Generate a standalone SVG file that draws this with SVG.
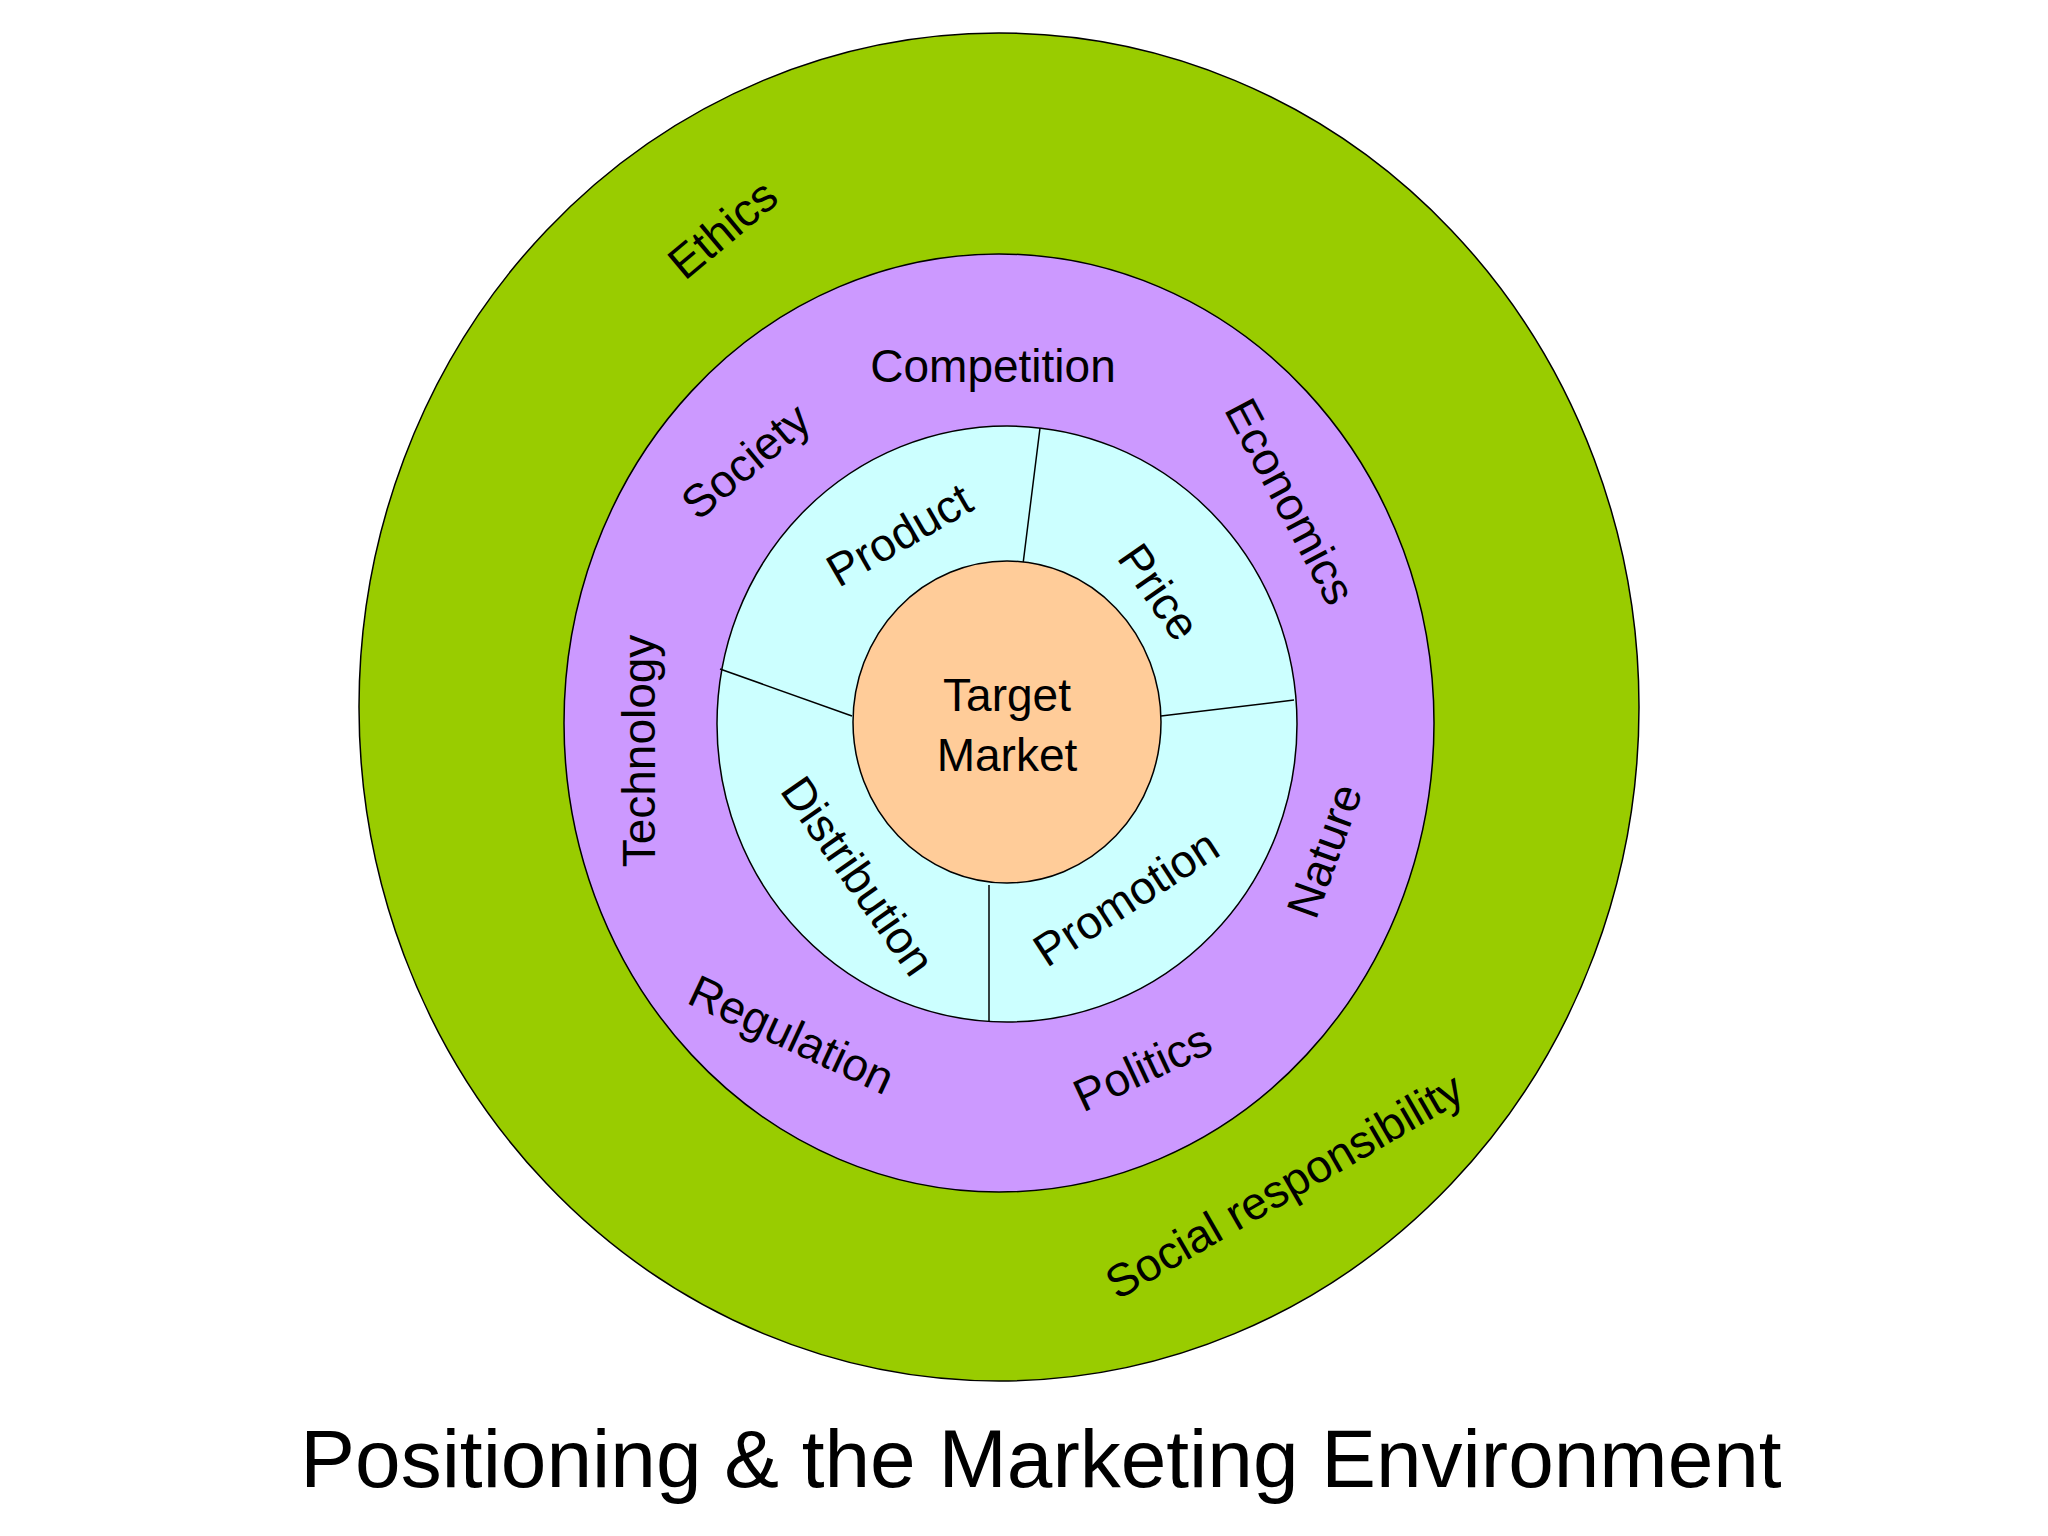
<svg xmlns="http://www.w3.org/2000/svg" width="2048" height="1536" viewBox="0 0 2048 1536">
<style>
.r{stroke:#000;stroke-width:1.5}
text{font-family:"Liberation Sans",Arial,sans-serif;font-size:46px;fill:#000;text-anchor:middle;dominant-baseline:middle}
</style>
<rect width="2048" height="1536" fill="#fff"/>
<g id="outer"><ellipse class="r" cx="999" cy="707" rx="640" ry="674" fill="#99cc00"/>
<text transform="translate(725,232) rotate(-40)">Ethics</text>
<text transform="translate(1286,1189) rotate(-30)">Social responsibility</text></g>
<g id="environment"><ellipse class="r" cx="999" cy="723" rx="435" ry="469" fill="#cc99ff"/>
<text x="993" y="370">Competition</text>
<text transform="translate(748,464) rotate(-40)">Society</text>
<text transform="translate(1287,503) rotate(62)">Economics</text>
<text transform="translate(643,751) rotate(-90)">Technology</text>
<text transform="translate(1328,852) rotate(-70)">Nature</text>
<text transform="translate(790,1038) rotate(25)">Regulation</text>
<text transform="translate(1144,1071) rotate(-25)">Politics</text></g>
<g id="mix"><ellipse class="r" cx="1007" cy="724" rx="290" ry="298" fill="#ccffff"/>
<text transform="translate(901,538) rotate(-30)">Product</text>
<text transform="translate(1156,594) rotate(55)">Price</text>
<text transform="translate(855,878) rotate(55)">Distribution</text>
<text transform="translate(1128,901) rotate(-33)">Promotion</text></g>
<g id="connectors" class="r">
<line x1="1023" y1="564" x2="1040" y2="428"/>
<line x1="1161" y1="716" x2="1294" y2="700"/>
<line x1="989" y1="885" x2="989" y2="1021"/>
<line x1="852" y1="716" x2="720" y2="669"/></g>
<g id="target"><ellipse class="r" cx="1007" cy="722" rx="154" ry="161" fill="#ffcc99"/>
<text x="1007" y="699">Target</text><text x="1007" y="759">Market</text></g>
<text x="1041" y="1465" style="font-size:82px">Positioning &amp; the Marketing Environment</text>
</svg>
